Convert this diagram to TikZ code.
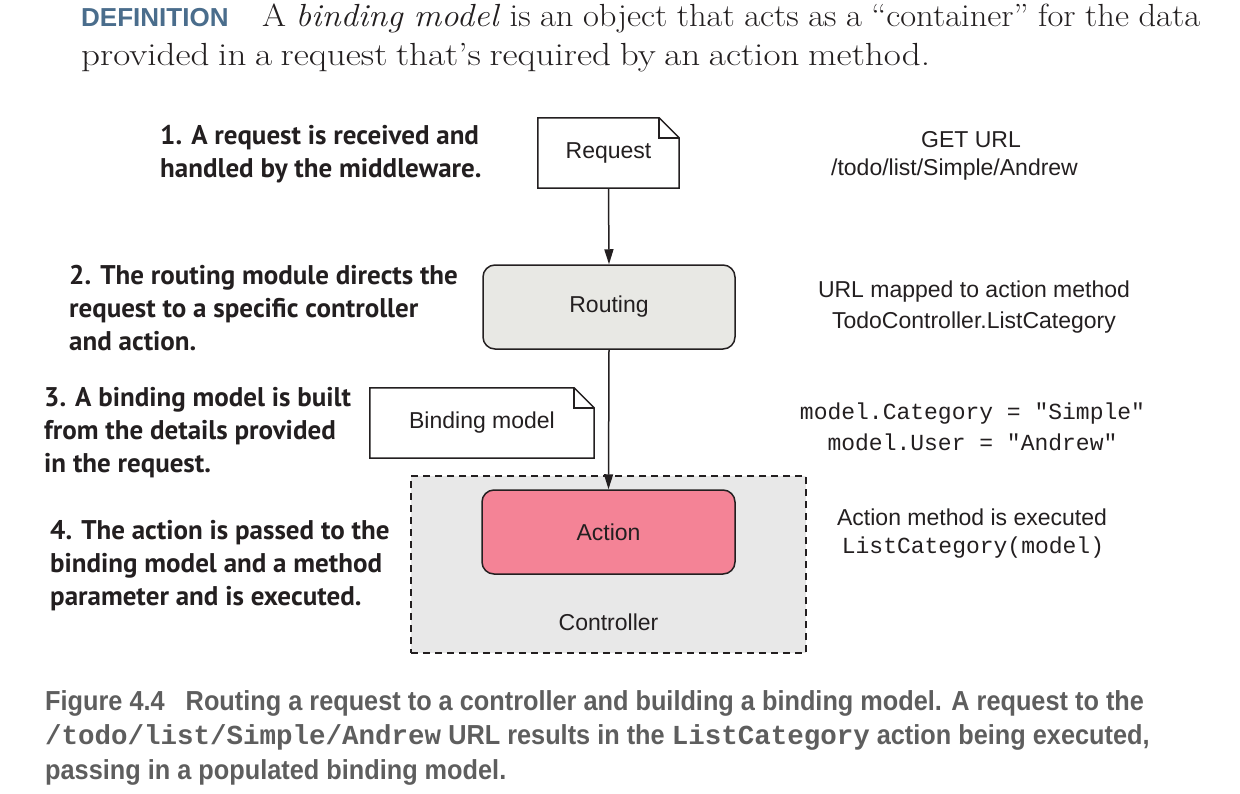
\documentclass[tikz,border=0pt]{standalone}
\usepackage{fontspec}
\usetikzlibrary{arrows.meta}
\newfontfamily\arialf{Liberation Sans}
\newfontfamily\monof{Liberation Mono}
\newfontfamily\condf{Liberation Sans}[FakeStretch=0.92]
\newfontfamily\headf{Liberation Sans}
\newfontfamily\gillf{PT Sans}
\newfontfamily\deffa{Latin Modern Roman}[FakeStretch=1.08]
\newfontfamily\deffb{Latin Modern Roman}[FakeStretch=1.16]
\definecolor{defblue}{HTML}{4A6D8C}
\definecolor{capgray}{HTML}{5E5E5E}
\definecolor{inkc}{HTML}{231F20}
\definecolor{routefill}{HTML}{E8E8E4}
\definecolor{ctrlfill}{HTML}{E8E8E8}
\definecolor{actfill}{HTML}{F48396}
\tikzset{
  lbl/.style={font=\gillf\bfseries\fontsize{27}{33}\selectfont, align=left, inner sep=0pt, text=inkc, anchor=north west},
  side/.style={font=\arialf\fontsize{23}{31}\selectfont, align=center, inner sep=0pt, text=inkc},
  sidemono/.style={font=\monof\fontsize{23}{31}\selectfont, align=center, inner sep=0pt, text=inkc},
  boxtext/.style={font=\arialf\fontsize{23}{28}\selectfont, text=inkc},
  notebox/.style={inner sep=0pt},
  roundbox/.style={draw=inkc, line width=1.5pt, rounded corners=12pt, inner sep=0pt},
  flow/.style={draw=inkc, line width=1.5pt, -{Triangle[length=15pt,width=9pt]}},
  deftext/.style={anchor=base west, inner sep=0pt, text=inkc},
}
\begin{document}
\begin{tikzpicture}[x=1pt,y=-1pt]
\useasboundingbox (0,0) rectangle (1240,793);

% definition
\node[anchor=base west, inner sep=0pt, font=\headf\bfseries\fontsize{26}{30}\selectfont, text=defblue] (defhead) at (81,26) {DEFINITION};
\node[deftext, font=\deffa\fontsize{32}{38}\selectfont] (defl1) at (262,26) {\makebox[938pt][s]{A \textit{binding model} is an object that acts as a “container” for the data}};
\node[deftext, font=\deffb\fontsize{32}{38}\selectfont] (defl2) at (81,65) {\makebox[849pt][s]{provided in a request that’s required by an action method.}};

% controller
\node[draw=inkc, line width=1.3pt, dash pattern=on 7pt off 5pt, fill=ctrlfill, minimum width=395pt, minimum height=177pt, inner sep=0pt] (ctrl) at (608.5,564.5) {};
\node[boxtext] (ctrltxt) at (608.5,622) {Controller};

% request note
\node[notebox, minimum width=141pt, minimum height=70pt] (req) at (608.5,153) {};
\draw[fill=white, draw=inkc, line width=1.5pt, line join=miter]
  (req.south west) -- (req.north west) -- ([xshift=-20pt]req.north east) -- ([yshift=-20pt]req.north east) -- (req.south east) -- cycle;
\draw[draw=inkc, line width=1.5pt] ([xshift=-20pt]req.north east) -- ([xshift=-20pt,yshift=-20pt]req.north east) -- ([yshift=-20pt]req.north east);
\node[boxtext] at (req.center) {Request};

% routing
\node[roundbox, fill=routefill, minimum width=252pt, minimum height=84pt, boxtext] (route) at (609,307) {Routing};

% binding model note
\node[notebox, minimum width=224pt, minimum height=70pt] (bind) at (482,423) {};
\draw[fill=white, draw=inkc, line width=1.5pt, line join=miter]
  (bind.south west) -- (bind.north west) -- ([xshift=-20pt]bind.north east) -- ([yshift=-20pt]bind.north east) -- (bind.south east) -- cycle;
\draw[draw=inkc, line width=1.5pt] ([xshift=-20pt]bind.north east) -- ([xshift=-20pt,yshift=-20pt]bind.north east) -- ([yshift=-20pt]bind.north east);
\node[boxtext] at (bind.center) {Binding model};

% action
\node[roundbox, fill=actfill, minimum width=253pt, minimum height=84pt, boxtext] (act) at (608.5,532) {Action};

% arrows
\draw[flow] (req.south) -- (route.north);
\draw[flow] (route.south) -- (act.north);

% left labels
\node[lbl] (lab1) at (160,125) {1. A request is received and\\handled by the middleware.};
\node[lbl] (lab2) at (69,265) {2. The routing module directs the\\request to a specific controller\\and action.};
\node[lbl] (lab3) at (44,387) {3. A binding model is built\\from the details provided\\in the request.};
\node[lbl] (lab4) at (50,520) {4. The action is passed to the\\binding model and a method\\parameter and is executed.};

% right side texts
\node[side] (get1) at (971,140) {GET URL};
\node[side] (get2) at (954.5,170) {/todo/list/Simple/Andrew};
\node[side] (map) at (974,307) {URL mapped to action method\\TodoController.ListCategory};
\node[sidemono] (mdl) at (972.5,427) {model.Category = "Simple"\\model.User = "Andrew"};
\node[side] (exec1) at (972,517) {Action method is executed};
\node[sidemono] (exec2) at (973,548) {ListCategory(model)};

% caption
\node[anchor=north west, inner sep=0pt, align=left, text=capgray, font=\condf\bfseries\fontsize{27.5}{34.5}\selectfont] (cap) at (45,690)
 {Figure 4.4\hspace{14pt} Routing a request to a controller and building a binding model. A request to the\\
  {\monof\bfseries /todo/list/Simple/Andrew} URL results in the {\monof\bfseries ListCategory} action being executed,\\
  passing in a populated binding model.};
\end{tikzpicture}
\end{document}
